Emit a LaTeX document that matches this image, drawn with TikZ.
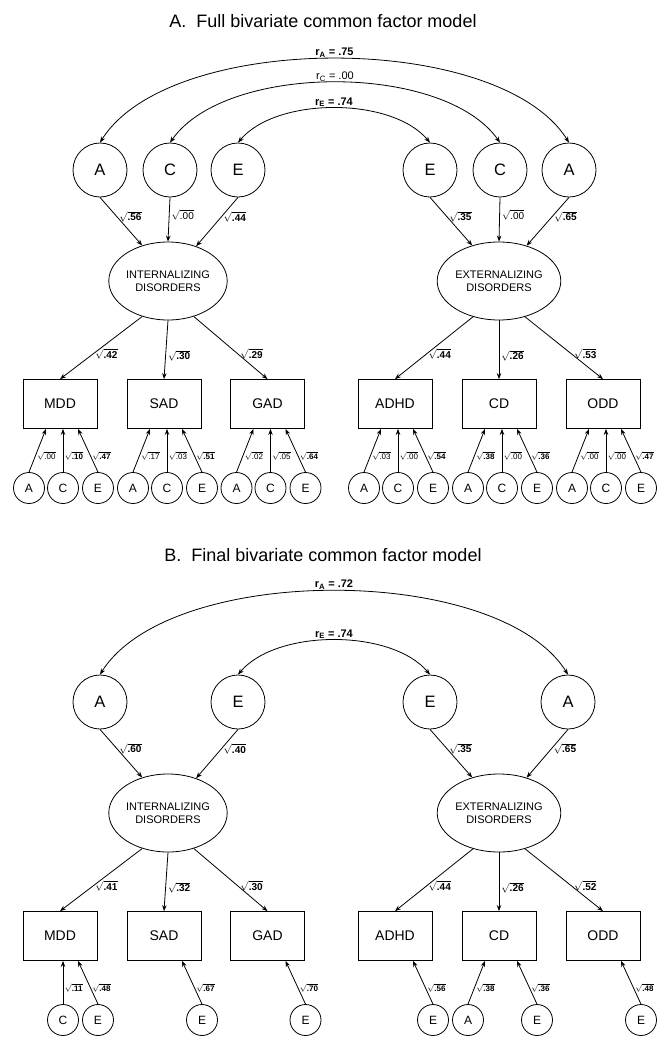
\documentclass[tikz,border=0pt]{standalone}
\usepackage{fontspec}
\setmainfont{Liberation Sans}
\usetikzlibrary{shapes.geometric,arrows.meta}
\newcommand{\fsz}[1]{\fontsize{#1}{#1}\selectfont}
\newcommand{\rt}[1]{$\sqrt{\mbox{#1}}$}
\begin{document}
\begin{tikzpicture}[x=1pt, y=1pt, line width=0.8pt,
  >={Stealth[length=6pt,width=4.5pt]},
  lat/.style={circle, draw, minimum size=54pt, inner sep=0pt, font=\fsz{16.5}},
  fac/.style={ellipse, draw, minimum width=114pt, minimum height=78pt, inner sep=0pt,
    align=center, font=\fontsize{11}{13}\selectfont},
  obs/.style={rectangle, draw, minimum width=74pt, minimum height=49pt, font=\fsz{14}},
  res/.style={circle, draw, minimum size=31pt, inner sep=0pt, font=\fsz{12}},
  coef/.style={font=\fsz{10}, inner sep=2pt},
  tiny/.style={font=\fsz{8}, inner sep=1.5pt},
  corr/.style={font=\fsz{11}, inner sep=1pt, above}]
\useasboundingbox (0,0) rectangle (669,-1047);

% A. 完整模型
\node[font=\fsz{18}] (titleA) at (323,-21) {A.\ \ Full bivariate common factor model};
\foreach \n/\x/\t in {aA1/100/A, cA1/170/C, eA1/238/E, eA2/430/E, cA2/500/C, aA2/569/A}
  \node[lat] (\n) at (\x,-170) {\t};
\node[fac] (intA) at (168,-281) {INTERNALIZING\\DISORDERS};
\node[fac] (extA) at (499,-281) {EXTERNALIZING\\DISORDERS};

% 相关弧线
\draw[<->] (aA1.north) to[out=58, in=122, looseness=0.72]
  node[corr] {\bfseries r\textsubscript{A} = .75} (aA2.north);
\draw[<->] (cA1.north) to[out=55, in=125, looseness=0.76]
  node[corr] {r\textsubscript{C} = .00} (cA2.north);
\draw[<->] (eA1.north) to[out=50, in=130, looseness=0.80]
  node[corr] {\bfseries r\textsubscript{E} = .74} (eA2.north);

% 因子载荷
\draw[->] (aA1.south) -- node[coef, right, pos=0.4] {\rt{\bfseries .56}} (intA.126);
\draw[->] (cA1.south) -- node[coef, right, pos=0.4] {\rt{.00}} (intA.90);
\draw[->] (eA1.south) -- node[coef, right, pos=0.4] {\rt{\bfseries .44}} (intA.51);
\draw[->] (eA2.south) -- node[coef, right, pos=0.4] {\rt{\bfseries .35}} (extA.127);
\draw[->] (cA2.south) -- node[coef, right, pos=0.4] {\rt{.00}} (extA.90);
\draw[->] (aA2.south) -- node[coef, right, pos=0.4] {\rt{\bfseries .65}} (extA.52);

% 观测变量与残差
\foreach \b/\bx/\t/\f/\lf/\la/\lc/\le in {
    mddA/60/MDD/intA/.42/{.00}/{\bfseries .10}/{\bfseries .47},
    sadA/164/SAD/intA/.30/{.17}/{.03}/{\bfseries .51},
    gadA/267.5/GAD/intA/.29/{.02}/{.05}/{\bfseries .64},
    adhdA/395/ADHD/extA/.44/{.03}/{.00}/{\bfseries .54},
    cdA/499/CD/extA/.26/{\bfseries .38}/{.00}/{\bfseries .36},
    oddA/603/ODD/extA/.53/{.00}/{.00}/{\bfseries .47}} {
  \node[obs] (\b) at (\bx,-404) {\t};
  \node[res] (\b-a) at (\bx-31,-488) {A};
  \node[res] (\b-c) at (\bx+3,-488) {C};
  \node[res] (\b-e) at (\bx+38,-488) {E};
  \draw[->] (\b-a.north) -- node[tiny, right, pos=0.38] {\rt{\la}} ([xshift=-14pt]\b.south);
  \draw[->] (\b-c.north) -- node[tiny, right, pos=0.38] {\rt{\lc}} ([xshift=3pt]\b.south);
  \draw[->] (\b-e.north) -- node[tiny, right, pos=0.38] {\rt{\le}} ([xshift=18pt]\b.south);
}
\foreach \f/\b/\ang in {intA/mddA/234, intA/sadA/270, intA/gadA/306,
    extA/adhdA/234, extA/cdA/270, extA/oddA/306}
  \draw[->] (\f.\ang) -- (\b.north);
\path (intA.234) -- node[coef, right, pos=0.6] {\rt{\bfseries .42}} (mddA.north);
\path (intA.270) -- node[coef, right, pos=0.6] {\rt{\bfseries .30}} (sadA.north);
\path (intA.306) -- node[coef, right, pos=0.6] {\rt{\bfseries .29}} (gadA.north);
\path (extA.234) -- node[coef, right, pos=0.6] {\rt{\bfseries .44}} (adhdA.north);
\path (extA.270) -- node[coef, right, pos=0.6] {\rt{\bfseries .26}} (cdA.north);
\path (extA.306) -- node[coef, right, pos=0.6] {\rt{\bfseries .53}} (oddA.north);

% B. 最终模型
\node[font=\fsz{18}] (titleB) at (323,-555) {B.\ \ Final bivariate common factor model};
\foreach \n/\x/\t in {aB1/100/A, eB1/238/E, eB2/430/E, aB2/568/A}
  \node[lat] (\n) at (\x,-702) {\t};
\node[fac] (intB) at (168,-813) {INTERNALIZING\\DISORDERS};
\node[fac] (extB) at (499,-813) {EXTERNALIZING\\DISORDERS};

\draw[<->] (aB1.north) to[out=58, in=122, looseness=0.72]
  node[corr] {\bfseries r\textsubscript{A} = .72} (aB2.north);
\draw[<->] (eB1.north) to[out=50, in=130, looseness=0.80]
  node[corr] {\bfseries r\textsubscript{E} = .74} (eB2.north);

\draw[->] (aB1.south) -- node[coef, right, pos=0.4] {\rt{\bfseries .60}} (intB.126);
\draw[->] (eB1.south) -- node[coef, right, pos=0.4] {\rt{\bfseries .40}} (intB.51);
\draw[->] (eB2.south) -- node[coef, right, pos=0.4] {\rt{\bfseries .35}} (extB.127);
\draw[->] (aB2.south) -- node[coef, right, pos=0.4] {\rt{\bfseries .65}} (extB.52);

\foreach \f/\b/\bx/\t/\ang/\lf in {intB/mddB/60/MDD/234/.41, intB/sadB/164/SAD/270/.32,
    intB/gadB/267.5/GAD/306/.30, extB/adhdB/395/ADHD/234/.44,
    extB/cdB/499/CD/270/.26, extB/oddB/603/ODD/306/.52} {
  \node[obs] (\b) at (\bx,-936) {\t};
  \draw[->] (\f.\ang) -- node[coef, right, pos=0.6] {\rt{\bfseries \lf}} (\b.north);
}

% 残差（仅保留）
\node[res] (mddB-c) at (63,-1020) {C};
\node[res] (mddB-e) at (98,-1020) {E};
\node[res] (sadB-e) at (202,-1020) {E};
\node[res] (gadB-e) at (305.5,-1020) {E};
\node[res] (adhdB-e) at (433,-1020) {E};
\node[res] (cdB-a) at (468,-1020) {A};
\node[res] (cdB-e) at (537,-1020) {E};
\node[res] (oddB-e) at (641,-1020) {E};
\draw[->] (mddB-c.north) -- node[tiny, right, pos=0.38] {\rt{\bfseries .11}} ([xshift=3pt]mddB.south);
\draw[->] (mddB-e.north) -- node[tiny, right, pos=0.38] {\rt{\bfseries .48}} ([xshift=18pt]mddB.south);
\draw[->] (sadB-e.north) -- node[tiny, right, pos=0.38] {\rt{\bfseries .67}} ([xshift=18pt]sadB.south);
\draw[->] (gadB-e.north) -- node[tiny, right, pos=0.38] {\rt{\bfseries .70}} ([xshift=18pt]gadB.south);
\draw[->] (adhdB-e.north) -- node[tiny, right, pos=0.38] {\rt{\bfseries .56}} ([xshift=18pt]adhdB.south);
\draw[->] (cdB-a.north) -- node[tiny, right, pos=0.38] {\rt{\bfseries .38}} ([xshift=-14pt]cdB.south);
\draw[->] (cdB-e.north) -- node[tiny, right, pos=0.38] {\rt{\bfseries .36}} ([xshift=18pt]cdB.south);
\draw[->] (oddB-e.north) -- node[tiny, right, pos=0.38] {\rt{\bfseries .48}} ([xshift=18pt]oddB.south);
\end{tikzpicture}
\end{document}
